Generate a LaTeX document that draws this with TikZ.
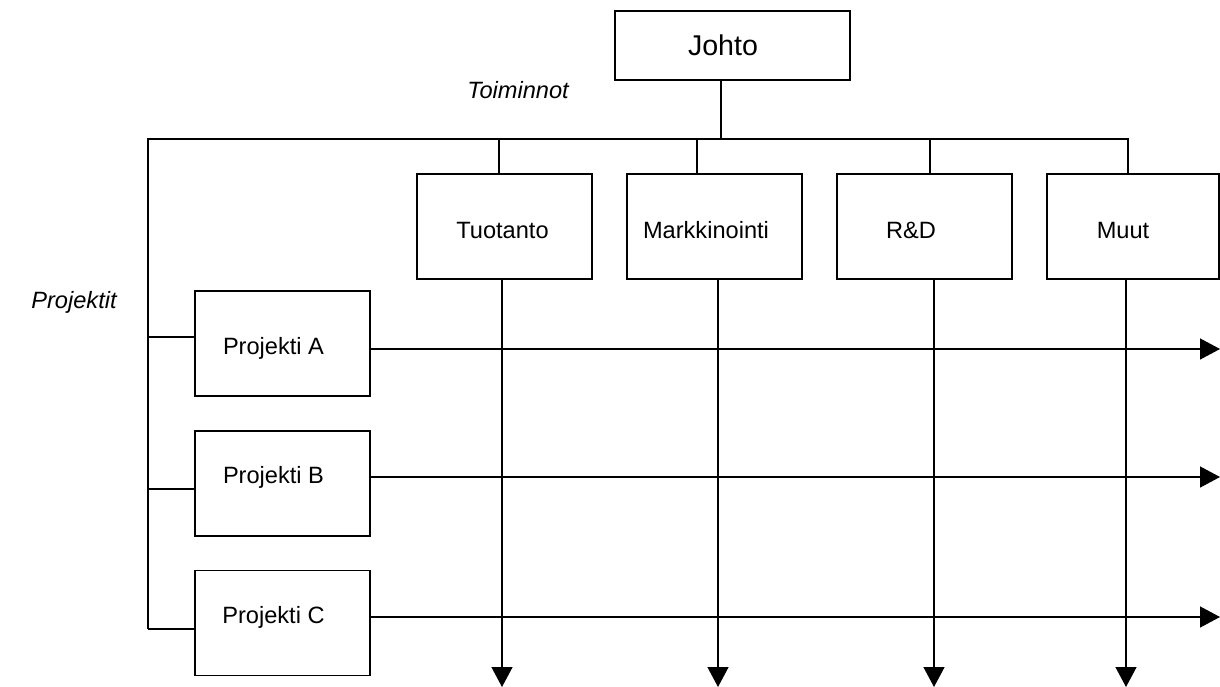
\documentclass[tikz,border=0pt]{standalone}
\usepackage{fontspec}
\setmainfont{Liberation Sans}
\usetikzlibrary{arrows.meta}
\begin{document}
\begin{tikzpicture}[x=1pt,y=-1pt,line width=1.4pt,
  box/.style={draw=black,rectangle,inner sep=0pt,fill=white},
  lbl/.style={inner sep=0pt,font=\fontsize{23.6}{28}\selectfont},
  head/.style={inner sep=0pt,font=\fontsize{23.6}{28}\selectfont\itshape},
  arr/.style={-{Triangle[length=20pt,width=21pt]}}]
\useasboundingbox (0,0) rectangle (1220,687);
% boxes
\node[box,minimum width=235pt,minimum height=69pt] (johto) at (732.5,45.5) {};
\node[lbl,font=\fontsize{28.6}{34}\selectfont] (tjohto) at (723,45.5) {Johto};
\node[box,minimum width=175pt,minimum height=105pt] (tuo) at (504.5,226.5) {};
\node[box,minimum width=175pt,minimum height=105pt] (mar) at (714.5,226.5) {};
\node[box,minimum width=175pt,minimum height=105pt] (rd) at (924.5,226.5) {};
\node[box,minimum width=172pt,minimum height=105pt] (muu) at (1133,226.5) {};
\node[lbl] (ttuo) at (502.5,230) {Tuotanto};
\node[lbl] (tmar) at (706,230) {Markkinointi};
\node[lbl] (trd) at (911,230) {R\&D};
\node[lbl] (tmuu) at (1123,230) {Muut};
\node[box,minimum width=175pt,minimum height=105pt] (pa) at (282.5,343.5) {};
\node[box,minimum width=175pt,minimum height=105pt] (pb) at (282.5,483.5) {};
\node[box,minimum width=175pt,minimum height=105pt] (pc) at (282.5,623) {};
\node[lbl] (tpa) at (273.5,348) {Projekti A};
\node[lbl] (tpb) at (273.5,477) {Projekti B};
\node[lbl] (tpc) at (273.5,617) {Projekti C};
\node[head] (toim) at (518,90) {Toiminnot};
\node[head] (proj) at (74,302) {Projektit};
% bus coordinates
\coordinate (jb) at (721,139);
\coordinate (busL) at (148,139);
\coordinate (busR) at (1128,139);
\coordinate (busB) at (148,629);
\coordinate (d1) at (499,139);
\coordinate (d2) at (697,139);
\coordinate (d3) at (930,139);
\coordinate (ta) at (148,337);
\coordinate (tb) at (148,489);
\coordinate (tc) at (148,629);
\coordinate (ea) at (1220,349);
\coordinate (eb) at (1220,477);
\coordinate (ec) at (1220,617);
\coordinate (v1) at (502,687);
\coordinate (v2) at (718,687);
\coordinate (v3) at (934,687);
\coordinate (v4) at (1126,687);
% connectors
\draw (johto.south -| jb) -- (jb);
\draw (busB) -- (busL) -- (busR) -- (muu.north -| busR);
\draw (d1) -- (tuo.north -| d1);
\draw (d2) -- (mar.north -| d2);
\draw (d3) -- (rd.north -| d3);
\draw (ta) -- (pa.west |- ta);
\draw (tb) -- (pb.west |- tb);
\draw (tc) -- (pc.west |- tc);
\draw[arr] (pa.east |- ea) -- (ea);
\draw[arr] (pb.east |- eb) -- (eb);
\draw[arr] (pc.east |- ec) -- (ec);
\draw[arr] (tuo.south -| v1) -- (v1);
\draw[arr] (mar.south -| v2) -- (v2);
\draw[arr] (rd.south -| v3) -- (v3);
\draw[arr] (muu.south -| v4) -- (v4);
\end{tikzpicture}
\end{document}
